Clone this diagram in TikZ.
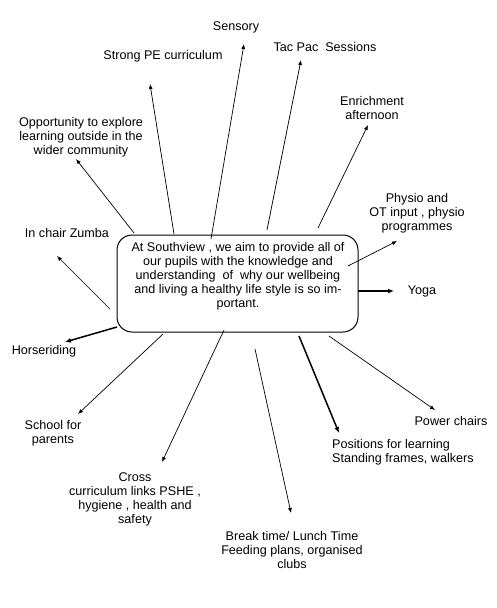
\documentclass[tikz,border=0pt]{standalone}
\usepackage{fontspec}
\setmainfont{Liberation Sans}
\usetikzlibrary{arrows.meta}

\begin{document}
\begin{tikzpicture}[x=1pt, y=-1pt,
				txt/.style={font=\fontsize{12.6}{14}\selectfont, align=center, inner sep=0pt},
				arr/.style={-{Latex[length=5pt,width=4pt]}, line width=0.7pt},
				boldarr/.style={-{Latex[length=6pt,width=5pt]}, line width=1.5pt},
				aimbox/.style={draw, rounded corners=15pt, line width=1pt, minimum width=241pt, minimum height=97pt, inner sep=0pt}]
				 \useasboundingbox (0,0) rectangle (496,608);
				 % the box in the middle
				 \node[aimbox] (centre) at (237.5,283.5) {};
				 \node[txt] (aim) at (238,276) {At Southview , we aim to provide all of\\
				 our pupils with the knowledge and\\
				 understanding~ of~ why our wellbeing\\
				 and living a healthy life style is so im-\\
				 portant.};
				 % start points
				 \coordinate (S1) at (174,234);
				 \coordinate (S2) at (211,239);
				 \coordinate (S3) at (267,230);
				 \coordinate (S4) at (318,228);
				 \coordinate (S5) at (134,233);
				 \coordinate (S6) at (348,266);
				 \coordinate (S7) at (358,291);
				 \coordinate (S8) at (110,309);
				 \coordinate (S9) at (117,327);
				 \coordinate (S10) at (163,334);
				 \coordinate (S11) at (224,330);
				 \coordinate (S12) at (255,349);
				 \coordinate (S13) at (299,336);
				 \coordinate (S14) at (329,336);
				 % tips
				 \coordinate (T1) at (150,84);
				 \coordinate (T2) at (244,44);
				 \coordinate (T3) at (301,60);
				 \coordinate (T4) at (368,125);
				 \coordinate (T5) at (76,159);
				 \coordinate (T6) at (397,241);
				 \coordinate (T7) at (394,291);
				 \coordinate (T8) at (57,256);
				 \coordinate (T9) at (65,342);
				 \coordinate (T10) at (78,414);
				 \coordinate (T11) at (162,462);
				 \coordinate (T12) at (291,513);
				 \coordinate (T13) at (339,433);
				 \coordinate (T14) at (435,410);
				 % lines...
				 \draw[arr] (S1)--(T1);
				 \draw[arr] (S2)--(T2);
				 \draw[arr] (S3)--(T3);
				 \draw[arr] (S4)--(T4);
				 \draw[arr] (S5)--(T5);
				 \draw[arr] (S6)--(T6);
				 \draw[boldarr] (S7)--(T7);
				 \draw[arr] (S8)--(T8);
				 \draw[boldarr] (S9)--(T9);
				 \draw[arr] (S10)--(T10);
				 \draw[arr] (S11)--(T11);
				 \draw[arr] (S12)--(T12);
				 \draw[boldarr] (S13)--(T13);
				 \draw[arr] (S14)--(T14);
				 % Drawing the nodes
				 \node[txt] (strongpe) at (163,56) {Strong PE curriculum};
				 \node[txt] (sensory) at (236,27) {Sensory};
				 \node[txt] (tacpac) at (325,47) {Tac Pac~ Sessions};
				 \node[txt] (enrich) at (372,108) {Enrichment\\afternoon};
				 \node[txt] (explore) at (81,137) {Opportunity to explore\\learning outside in the\\wider community};
				 \node[txt] (physio) at (417,213) {Physio and\\OT input , physio\\programmes};
				 \node[txt] (yoga) at (422,291) {Yoga};
				 \node[txt] (zumba) at (67,233) {In chair Zumba};
				 \node[txt] (horse) at (44,351) {Horseriding};
				 \node[txt] (parents) at (53,433) {School for\\parents};
				 \node[txt] (cross) at (135,499) {Cross\\curriculum links PSHE ,\\hygiene , health and\\safety};
				 \node[txt] (breaktime) at (292,550) {Break time/ Lunch Time\\Feeding plans, organised\\clubs};
				 \node[txt, anchor=west, align=left] (positions) at (332,452) {Positions for learning\\Standing frames, walkers};
				 \node[txt] (powerchairs) at (451,421) {Power chairs};
\end{tikzpicture}
\end{document}
